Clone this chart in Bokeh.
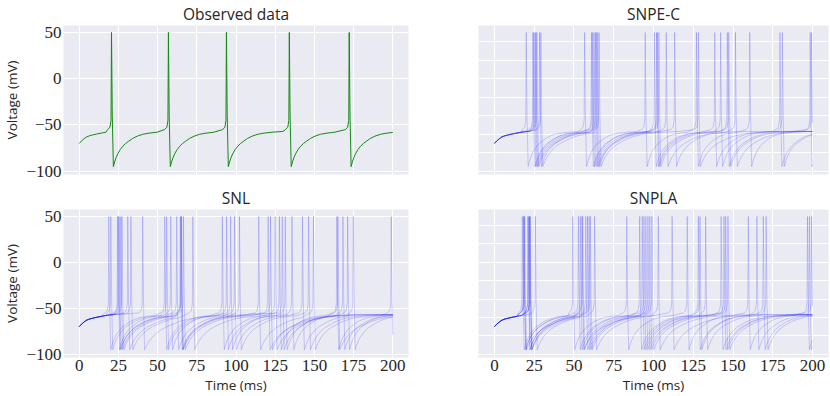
from bokeh.plotting import figure
from bokeh.layouts import gridplot
from bokeh.models import Range1d, FixedTicker
from bokeh.embed import file_html
from bokeh.resources import INLINE

# ---------------- data ----------------
T_END = 200.0
TITLES = ["Observed data", "SNPE-C", "SNL", "SNPLA"]
X_TICKS = [0, 25, 50, 75, 100, 125, 150, 175, 200]
X_TICK_LABELS = ["0", "25", "50", "75", "100", "125", "150", "175", "200"]
Y_TICKS = [-100, -50, 0, 50]
Y_TICK_LABELS = ["\u2212100", "\u221250", "0", "50"]
RIGHT_Y_GRID = [-100, -80, -60, -40, -20, 0, 20, 40]

# initial (pre-first-spike) waveform: time (ms), voltage (mV)
INIT_T = [0.0, 1.5, 3.0, 4.6, 6.5, 8.5, 11.0, 14.0, 17.0, 22.0, 30.0]
INIT_V = [-70.0, -67.2, -65.0, -63.0, -61.7, -60.8, -59.8, -58.8, -57.8, -56.8, -56.0]
# waveform after a spike: offset from spike (ms), voltage (mV)
REC_DT = [0.0, 0.5, 1.2, 2.0, 3.0, 4.2, 5.6, 7.2, 9.0, 11.0, 13.5, 16.5, 20.0, 24.0, 29.0, 36.0]
REC_V = [50.0, -40.0, -95.0, -90.0, -85.0, -80.5, -76.5, -73.0, -70.0, -67.5, -64.5, -62.0, -60.0, -58.8, -57.8, -57.0]
# upstroke just before a spike
PRE_DT = [-2.5, -1.0, -0.3]
PRE_V = [-55.0, -52.5, -45.0]

OBS_SPIKES = [20.6, 56.9, 93.9, 134.0, 172.2]

SNPE_C_SPIKES = [
    [20.0, 56.7, 94.8, 127.0, 160.5, 198.5],
    [24.2, 61.0, 100.5, 138.5, 179.5],
    [24.8, 61.7, 101.9, 142.2, 181.0],
    [25.5, 62.6, 102.5, 146.4, 199.4],
    [26.1, 63.5, 103.4, 147.3],
    [26.7, 64.1, 108.0, 151.5],
    [28.4, 64.9, 113.3],
    [29.2, 65.8, 128.2],
]
SNPE_C_RECOVERY = [0.9, 1.0, 1.0, 1.1, 1.2, 1.3, 1.1, 1.4]

SNL_SPIKES = [
    [18.9, 54.6, 91.3, 127.7, 164.3, 199.0],
    [20.2, 55.8, 94.0, 131.4, 168.2],
    [24.5, 58.4, 96.6, 135.7, 171.2],
    [25.5, 62.2, 99.1, 142.4, 174.8],
    [26.5, 64.5, 102.2, 146.3],
    [27.3, 65.2, 114.5, 149.4],
    [31.0, 66.5, 122.0],
    [33.0, 72.5, 125.0, 165.0],
    [40.5, 120.5],
    [25.0, 65.0, 129.5],
]
SNL_RECOVERY = [1.0, 1.1, 1.0, 1.2, 1.3, 1.4, 1.5, 1.6, 1.8, 1.3]

SNPLA_SPIKES = [
    [17.5, 49.3, 83.2, 121.2, 159.6, 196.8],
    [18.5, 52.8, 91.3, 128.2, 165.0, 199.4],
    [18.5, 54.0, 92.9, 129.2, 169.0],
    [21.2, 55.5, 94.0, 132.8, 170.8],
    [21.2, 57.4, 95.2, 142.5, 198.0],
    [22.2, 58.5, 96.5, 144.3],
    [22.2, 59.5, 97.7, 145.4],
    [25.7, 60.3, 99.0, 146.8],
    [22.5, 63.0, 103.0],
    [19.0, 55.0, 111.7],
]
SNPLA_RECOVERY = [1.0, 1.1, 1.1, 1.2, 1.2, 1.3, 1.3, 1.4, 1.5, 1.6]


# ---------------- build traces from spike times + waveform ----------------
def build_trace(spikes, scale=1.0):
    rec_dt = [d if i < 3 else REC_DT[2] + (d - REC_DT[2]) * scale for i, d in enumerate(REC_DT)]
    ts, vs = [], []
    prev = None
    for s in spikes + [None]:
        limit = (s + PRE_DT[0] - 0.1) if s is not None else T_END + 50
        if prev is None:
            seg = [(t, v) for t, v in zip(INIT_T, INIT_V) if t < limit]
        else:
            seg = [(prev + d, v) for d, v in zip(rec_dt[1:], REC_V[1:]) if prev + d < limit]
        for t, v in seg:
            ts.append(t); vs.append(v)
        if s is not None:
            for d, v in zip(PRE_DT, PRE_V):
                ts.append(s + d); vs.append(v)
            ts.append(s); vs.append(REC_V[0])
        prev = s
    if ts[-1] < T_END:
        ts.append(T_END); vs.append(vs[-1])
    out_t, out_v = [], []
    for i, (t, v) in enumerate(zip(ts, vs)):
        if t <= T_END:
            out_t.append(t); out_v.append(v)
        else:
            t0, v0 = ts[i - 1], vs[i - 1]
            out_t.append(T_END); out_v.append(v0 + (v - v0) * (T_END - t0) / (t - t0))
            break
    return out_t, out_v


BG = "#EAEAF2"
TXT = "#262626"
SERIF = "Liberation Serif"
SANS = "Open Sans"


def make_panel(title, left, bottom):
    w = 418 if left else 412
    h = 212 if bottom else 184
    p = figure(
        width=w, height=h, output_backend="svg", toolbar_location=None,
        x_range=Range1d(-10, 210), y_range=Range1d(-103.5, 57.5),
        x_axis_location="below" if bottom else None,
        y_axis_location="left" if left else None,
        min_border_left=60, min_border_right=10 if left else 2,
        min_border_top=21 if bottom else 19, min_border_bottom=36 if bottom else 10,
    )
    p.title.text = title
    p.title.align = "center"
    p.title.text_font = SANS
    p.title.text_font_size = "15.5px"
    p.title.text_font_style = "normal"
    p.title.text_color = TXT
    p.title.standoff = 1
    p.background_fill_color = BG
    p.border_fill_color = "white"
    p.outline_line_color = None
    for g in p.xgrid:
        g.ticker = FixedTicker(ticks=X_TICKS)
        g.grid_line_color = "white"
        g.grid_line_width = 1
    for g in p.ygrid:
        g.ticker = FixedTicker(ticks=Y_TICKS if left else RIGHT_Y_GRID)
        g.grid_line_color = "white"
        g.grid_line_width = 1
    if bottom:
        ax = p.xaxis[0]
        ax.ticker = FixedTicker(ticks=X_TICKS)
        ax.major_label_overrides = dict(zip(X_TICKS, X_TICK_LABELS))
        ax.axis_label = "Time (ms)"
    if left:
        ax = p.yaxis[0]
        ax.ticker = FixedTicker(ticks=Y_TICKS)
        ax.major_label_overrides = dict(zip(Y_TICKS, Y_TICK_LABELS))
        ax.axis_label = "Voltage (mV)"
    for ax in p.axis:
        ax.axis_line_color = None
        ax.major_tick_line_color = None
        ax.minor_tick_line_color = None
        ax.major_tick_out = 0
        ax.major_tick_in = 0
        ax.minor_tick_out = 0
        ax.minor_tick_in = 0
        ax.major_label_text_font = SERIF
        ax.major_label_text_font_size = "17px"
        ax.major_label_text_color = TXT
        ax.major_label_standoff = 2
        ax.axis_label_text_font = SANS
        ax.axis_label_text_font_size = "13.5px"
        ax.axis_label_text_font_style = "normal"
        ax.axis_label_text_color = TXT
        ax.axis_label_standoff = 2
    return p


p_obs = make_panel(TITLES[0], True, False)
ot, ov = build_trace(OBS_SPIKES)
p_obs.line(ot, ov, line_color="#138a13", line_width=1.0)

panels = []
for title, spikes, rec, left, bottom in [
    (TITLES[1], SNPE_C_SPIKES, SNPE_C_RECOVERY, False, False),
    (TITLES[2], SNL_SPIKES, SNL_RECOVERY, True, True),
    (TITLES[3], SNPLA_SPIKES, SNPLA_RECOVERY, False, True),
]:
    p = make_panel(title, left, bottom)
    xs, ys = [], []
    for sp, sc in zip(spikes, rec):
        t, v = build_trace(sp, sc)
        xs.append(t); ys.append(v)
    p.multi_line(xs, ys, line_color="#0000ff", line_alpha=0.2, line_width=0.9)
    panels.append(p)

grid = gridplot([[p_obs, panels[0]], [panels[1], panels[2]]], toolbar_location=None)

with open("out.html", "w") as f:
    f.write(file_html(grid, INLINE))
